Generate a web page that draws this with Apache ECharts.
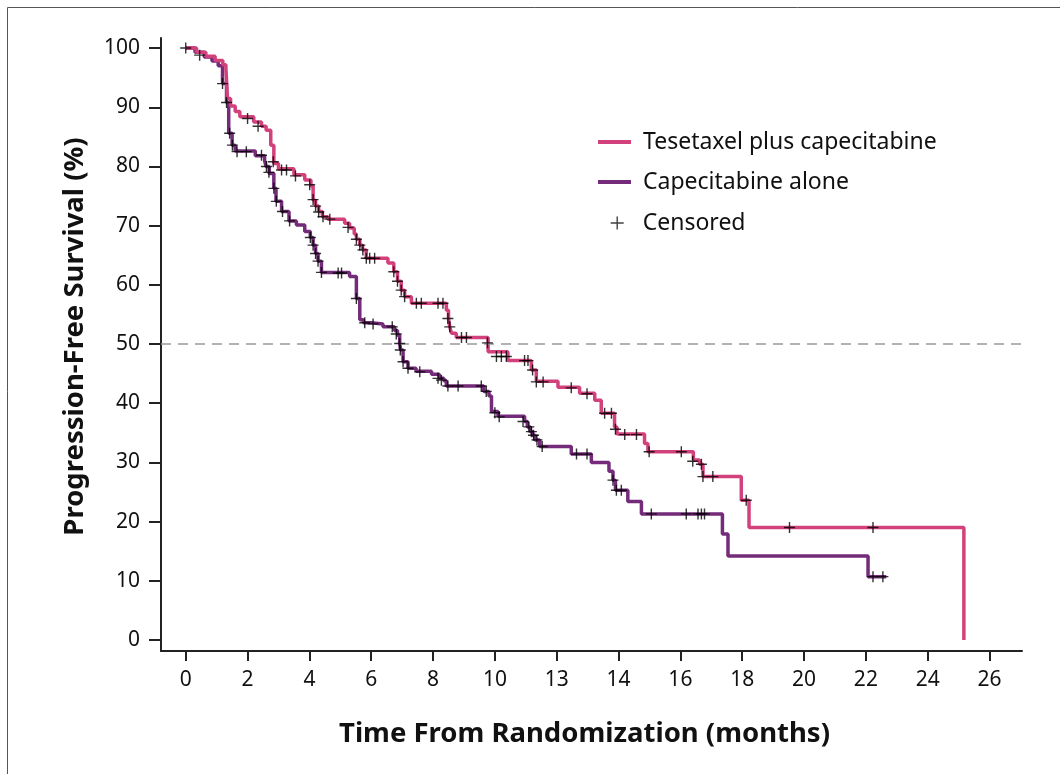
<!DOCTYPE html>
<html><head><meta charset="utf-8">
<script src="https://cdn.jsdelivr.net/npm/echarts@6/dist/echarts.min.js"></script>
<style>html,body{margin:0;padding:0;background:#fff}#c{width:1060px;height:774px}</style>
</head><body><div id="c"></div><script>
const seriesNames = ['Tesetaxel plus capecitabine', 'Capecitabine alone', 'Censored'];
const xTickValues = [0, 2, 4, 6, 8, 10, 12, 14, 16, 18, 20, 22, 24, 26];
const xTickLabels = ['0', '2', '4', '6', '8', '10', '13', '14', '16', '18', '20', '22', '24', '26'];
const yTickValues = [0, 10, 20, 30, 40, 50, 60, 70, 80, 90, 100];
const medianLevel = 50;

// Kaplan-Meier steps: [months, survival % after the event]
const tesetaxelSteps = [
  [0, 100], [0.35, 99.3], [0.65, 98.6], [0.95, 97.9], [1.2, 97.2], [1.3, 96.5], [1.35, 91.5], [1.45, 90.2],
  [1.6, 89.3], [1.75, 88.4], [2.2, 87.5], [2.45, 86.8], [2.6, 86.1], [2.75, 83.6], [2.85, 80.5], [3.0, 79.6],
  [3.5, 78.6], [3.85, 77.7], [4.05, 76.7], [4.12, 74.3], [4.2, 73.3], [4.3, 72.4], [4.42, 71.5], [4.6, 71.1],
  [5.14, 70.4], [5.3, 69.6], [5.45, 68.6], [5.52, 67.7], [5.63, 66.7], [5.72, 65.9], [5.84, 64.5], [6.54, 63.7],
  [6.73, 62.2], [6.85, 60.6], [6.97, 59.1], [7.08, 58.0], [7.3, 56.9], [8.43, 55.7], [8.5, 54.3], [8.54, 52.9],
  [8.6, 51.8], [8.75, 51.1], [9.78, 48.7], [10.42, 47.2], [11.18, 45.6], [11.34, 43.7], [12.04, 42.7], [12.74, 41.7],
  [13.23, 40.5], [13.44, 38.3], [13.87, 36.0], [13.95, 34.8], [14.84, 33.2], [14.95, 31.8], [16.42, 30.4], [16.62, 29.7],
  [16.73, 27.6], [17.97, 23.6], [18.22, 19.0], [25.17, 0]
];
const capecitabineSteps = [
  [0, 100], [0.3, 99.3], [0.6, 98.5], [0.85, 97.8], [1.05, 97.0], [1.19, 94.0], [1.32, 90.8], [1.39, 85.6],
  [1.5, 83.6], [1.6, 82.6], [2.25, 81.8], [2.55, 81.0], [2.6, 80.0], [2.7, 78.8], [2.85, 76.3], [2.92, 74.1],
  [3.1, 72.4], [3.34, 70.8], [3.58, 70.1], [3.85, 69.0], [4.03, 68.0], [4.12, 66.7], [4.2, 65.3], [4.28, 64.0],
  [4.39, 62.1], [5.3, 61.4], [5.52, 57.7], [5.63, 54.1], [5.75, 53.6], [6.0, 53.4], [6.38, 52.9], [6.75, 52.3],
  [6.85, 51.5], [6.92, 50.1], [6.95, 49.0], [7.03, 47.0], [7.19, 45.9], [7.45, 45.4], [7.95, 44.9], [8.2, 44.2],
  [8.35, 43.8], [8.43, 42.9], [9.64, 42.0], [9.81, 41.2], [9.89, 38.6], [10.1, 37.8], [10.96, 36.9], [11.05, 36.0],
  [11.15, 35.2], [11.22, 34.6], [11.3, 33.8], [11.45, 32.7], [12.47, 31.4], [13.12, 30.0], [13.69, 28.5], [13.82, 27.0],
  [13.9, 25.3], [14.3, 23.4], [14.74, 21.3], [17.36, 17.9], [17.54, 14.2], [22.07, 10.7], [22.66, 10.7]
];
const tesetaxelCensored = [
  [0, 100], [2.0, 88.1], [2.34, 86.8], [2.83, 80.8], [3.1, 79.4], [3.26, 79.4], [3.55, 78.4], [4.01, 76.9],
  [4.12, 74.4], [4.2, 73.3], [4.3, 72.3], [4.44, 71.5], [4.66, 71.1], [5.25, 69.7], [5.52, 67.7], [5.63, 66.7],
  [5.73, 65.9], [5.84, 64.5], [5.95, 64.5], [6.11, 64.5], [6.73, 62.2], [6.85, 60.6], [6.97, 59.1], [7.08, 58.0],
  [7.46, 56.9], [7.62, 56.9], [8.16, 56.9], [8.32, 56.9], [8.48, 54.3], [8.54, 52.9], [8.92, 51.1], [9.08, 51.1],
  [9.76, 50.2], [10.05, 47.9], [10.21, 47.9], [10.37, 47.9], [10.96, 47.2], [11.07, 47.2], [11.22, 45.6], [11.34, 43.6],
  [11.56, 43.6], [12.47, 42.6], [12.98, 41.6], [13.55, 38.3], [13.77, 38.3], [13.9, 35.6], [14.2, 34.7], [14.58, 34.7],
  [14.99, 31.8], [16.03, 31.8], [16.4, 30.2], [16.68, 29.7], [16.73, 27.6], [17.05, 27.6], [18.13, 23.6], [19.53, 19.0],
  [22.23, 19.0]
];
const capecitabineCensored = [
  [0.45, 98.8], [1.19, 94.0], [1.32, 90.8], [1.42, 85.6], [1.51, 83.6], [1.66, 82.5], [1.96, 82.5], [2.45, 81.9],
  [2.61, 80.0], [2.69, 79.0], [2.85, 76.3], [2.93, 74.1], [3.13, 72.4], [3.36, 70.8], [4.03, 68.0], [4.12, 66.7],
  [4.2, 65.3], [4.28, 64.0], [4.39, 62.1], [4.93, 62.0], [5.04, 62.0], [5.52, 57.7], [5.79, 53.6], [6.06, 53.4],
  [6.68, 52.9], [6.81, 51.7], [6.92, 50.1], [6.94, 49.0], [7.03, 47.0], [7.19, 45.9], [7.57, 45.3], [8.16, 44.2],
  [8.27, 43.9], [8.48, 42.9], [8.81, 42.9], [9.56, 42.9], [9.72, 42.0], [10.0, 38.4], [10.14, 37.7], [10.91, 36.9],
  [11.1, 36.0], [11.18, 35.2], [11.25, 34.6], [11.36, 33.8], [11.53, 32.7], [12.64, 31.4], [12.98, 31.4], [13.82, 27.0],
  [13.93, 25.3], [14.09, 25.3], [15.06, 21.3], [16.19, 21.3], [16.57, 21.3], [16.68, 21.3], [16.78, 21.3], [22.23, 10.7],
  [22.55, 10.7]
];

const PINK = '#d2417b', PURPLE = '#742b79', FONT = 'Noto Sans';
const chart = echarts.init(document.getElementById('c'), null, {renderer: 'canvas'});
chart.setOption({
  animation: false,
  backgroundColor: '#fff',
  textStyle: {fontFamily: FONT, color: '#111'},
  grid: {left: 161, right: 38, top: 38, bottom: 123, containLabel: false},
  graphic: [{type: 'rect', silent: true, shape: {x: 7.5, y: 7.5, width: 1100, height: 800},
    style: {fill: 'none', stroke: '#555', lineWidth: 1}}],
  legend: [{
    data: [{name: seriesNames[0]}, {name: seriesNames[1]}],
    orient: 'vertical', left: 593, top: 125, icon: 'rect', itemWidth: 33, itemHeight: 4, itemGap: 16,
    textStyle: {fontFamily: FONT, fontSize: 23, color: '#111', lineHeight: 24, padding: [0, 0, 0, 7]},
    selectedMode: false
  }, {
    data: [{name: seriesNames[2]}],
    orient: 'vertical', left: 605, top: 206, itemWidth: 13, itemHeight: 13,
    itemStyle: {color: 'transparent', borderColor: '#111', borderWidth: 1.4},
    textStyle: {fontFamily: FONT, fontSize: 23, color: '#111', lineHeight: 24, padding: [0, 0, 0, 14]},
    selectedMode: false
  }],
  xAxis: {
    type: 'value', min: -0.8, max: 27.05,
    name: 'Time From Randomization (months)', nameLocation: 'middle', nameGap: 69,
    nameTextStyle: {fontFamily: FONT, fontSize: 27.5, fontWeight: 'bold', color: '#111', padding: [0, 14, 0, 0]},
    axisLine: {show: true, onZero: false, lineStyle: {color: '#222', width: 2}},
    axisTick: {show: true, customValues: xTickValues, length: 10, lineStyle: {color: '#222', width: 2}},
    axisLabel: {customValues: xTickValues, margin: 19, fontSize: 21, color: '#111', fontFamily: FONT,
      formatter: v => xTickLabels[xTickValues.indexOf(Math.round(v))]},
    splitLine: {show: false}
  },
  yAxis: {
    type: 'value', min: -1.86, max: 101.7,
    name: 'Progression-Free Survival (%)', nameLocation: 'middle', nameGap: 72,
    nameTextStyle: {fontFamily: FONT, fontSize: 27.5, fontWeight: 'bold', color: '#111', padding: [0, 0, 0, 16]},
    axisLine: {show: true, onZero: false, lineStyle: {color: '#222', width: 2}},
    axisTick: {show: true, customValues: yTickValues, length: 12, lineStyle: {color: '#222', width: 2}},
    axisLabel: {customValues: yTickValues, margin: 21, fontSize: 21, color: '#111', fontFamily: FONT},
    splitLine: {show: false}
  },
  series: [{
    name: seriesNames[0], type: 'line', step: 'end', data: tesetaxelSteps, showSymbol: false,
    lineStyle: {color: PINK, width: 3.5}, itemStyle: {color: PINK}, z: 3,
    markLine: {silent: true, symbol: 'none', label: {show: false},
      lineStyle: {color: '#999', type: [10, 7], width: 1.5}, data: [{yAxis: medianLevel}]}
  }, {
    name: seriesNames[1], type: 'line', step: 'end', data: capecitabineSteps, showSymbol: false,
    lineStyle: {color: PURPLE, width: 3.5}, itemStyle: {color: PURPLE}, z: 2
  }, {
    name: seriesNames[2], type: 'scatter', data: tesetaxelCensored.concat(capecitabineCensored),
    symbol: 'path://M5,0L5,10M0,5L10,5', symbolSize: 11,
    itemStyle: {color: 'transparent', borderColor: '#000', borderWidth: 1.4}, z: 5
  }]
});
</script></body></html>
